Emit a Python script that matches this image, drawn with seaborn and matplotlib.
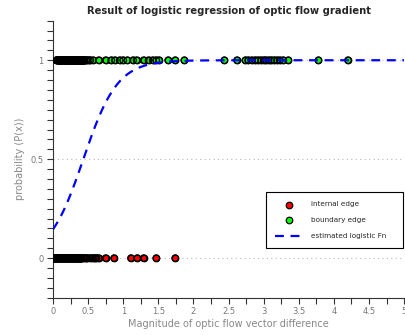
import numpy as np
import pandas as pd
import matplotlib
matplotlib.use('Agg')
import matplotlib.pyplot as plt
import seaborn as sns

# magnitudes of optic flow vector difference
# (dense clusters near zero kept in the order the samples came in)
internal_x = [0.000, 0.185, 0.370, 0.150, 0.335, 0.115, 0.300, 0.080, 0.265, 0.045,
              0.230, 0.010, 0.195, 0.380, 0.160, 0.345, 0.125, 0.310, 0.090, 0.275,
              0.055, 0.240, 0.020, 0.205, 0.390, 0.170, 0.355, 0.135, 0.320, 0.100,
              0.285, 0.065, 0.250, 0.030, 0.215, 0.400, 0.180, 0.365, 0.145, 0.330,
              0.110, 0.295, 0.075, 0.260, 0.040, 0.225, 0.005, 0.190, 0.375, 0.155,
              0.340, 0.120, 0.305, 0.085, 0.270, 0.050, 0.235, 0.015, 0.200, 0.385,
              0.165, 0.350, 0.130, 0.315, 0.095, 0.280, 0.060, 0.245, 0.025, 0.210,
              0.395, 0.175, 0.360, 0.140, 0.325, 0.105, 0.290, 0.070, 0.255, 0.035,
              0.220,
              0.45, 0.62, 0.41, 0.55, 0.49, 0.65, 0.43, 0.58, 0.52, 0.47, 0.60,
              0.75, 0.87, 1.11, 1.20, 1.29, 1.47, 1.74]
boundary_x = [0.050, 0.235, 0.420, 0.200, 0.385, 0.165, 0.350, 0.130, 0.315, 0.095,
              0.280, 0.060, 0.245, 0.430, 0.210, 0.395, 0.175, 0.360, 0.140, 0.325,
              0.105, 0.290, 0.070, 0.255, 0.440, 0.220, 0.405, 0.185, 0.370, 0.150,
              0.335, 0.115, 0.300, 0.080, 0.265, 0.450, 0.230, 0.415, 0.195, 0.380,
              0.160, 0.345, 0.125, 0.310, 0.090, 0.275, 0.055, 0.240, 0.425, 0.205,
              0.390, 0.170, 0.355, 0.135, 0.320, 0.100, 0.285, 0.065, 0.250, 0.435,
              0.215, 0.400, 0.180, 0.365, 0.145, 0.330, 0.110, 0.295, 0.075, 0.260,
              0.445, 0.225, 0.410, 0.190, 0.375, 0.155, 0.340, 0.120, 0.305, 0.085,
              0.270,
              0.47, 0.53, 0.49, 0.51,
              0.57, 0.65, 0.75, 0.83, 0.88, 0.95, 1.00, 1.06, 1.14, 1.19,
              1.29, 1.36, 1.42, 1.47, 1.51, 1.64, 1.74, 1.87, 2.44, 2.62,
              2.74, 2.78, 2.83, 2.88, 2.92, 2.96, 3.00, 3.03, 3.07, 3.11,
              3.15, 3.19, 3.23, 3.28, 3.35, 3.78, 4.20]
# estimated logistic fn coefficients (intercept, slope)
b0, b1 = -1.77, 4.1

internal = pd.DataFrame({'x': internal_x, 'p': 0.0})
boundary = pd.DataFrame({'x': boundary_x, 'p': 1.0})
xs = np.linspace(0, 5, 300)
fit = pd.DataFrame({'x': xs, 'p': 1 / (1 + np.exp(-(b0 + b1 * xs)))})

sns.set_style('white')
plt.rcParams['font.family'] = ['DejaVu Sans']

fig = plt.figure(figsize=(4.06, 3.35), dpi=100)
ax = fig.add_axes([0.1305, 0.1113, 0.865, 0.827])

for yv in [0, 0.5, 1]:
    ax.axhline(yv, color='#b8b8b8', ls=(0, (1, 3)), lw=0.8, zorder=0)

mk = dict(s=22, linewidth=0.9, ax=ax)
sns.scatterplot(data=internal, x='x', y='p', color='#ff0000', edgecolor='black',
                label='internal edge', zorder=3, **mk)
sns.scatterplot(data=boundary, x='x', y='p', color='#00ff00', edgecolor='black',
                label='boundary edge', zorder=3, **mk)
# outlines drawn again on top, so the crowded points near zero go dark
for d in [internal, boundary]:
    sns.scatterplot(data=d, x='x', y='p', facecolor='none', edgecolor='black',
                    zorder=3.5, legend=False, **mk)
sns.lineplot(data=fit, x='x', y='p', color='#0000ff', lw=1.6, dashes=False,
             ls=(0, (4, 3)), label='estimated logistic Fn', ax=ax, zorder=4)

ax.set_xlim(0, 5)
ax.set_ylim(-0.2, 1.2)
ax.set_xticks(np.arange(0, 5.01, 0.5))
ax.set_xticklabels(['0', '0.5', '1', '1.5', '2', '2.5', '3', '3.5', '4', '4.5', '5'])
ax.set_xticks(np.arange(0, 5.01, 0.25), minor=True)
ax.set_yticks([0, 0.5, 1])
ax.set_yticklabels(['0', '0.5', '1'])
ax.set_yticks(np.arange(-0.2, 1.201, 0.05), minor=True)
ax.tick_params(which='both', direction='out', length=4, width=0.8, color='#333333',
               labelsize=6, labelcolor='#777777', bottom=True, left=True, pad=3)
for s in ['top', 'right']:
    ax.spines[s].set_visible(False)
for s in ['left', 'bottom']:
    ax.spines[s].set_color('#333333')
    ax.spines[s].set_linewidth(0.8)

ax.set_title('Result of logistic regression of optic flow gradient',
             fontsize=7.2, fontweight='bold', pad=5)
ax.set_xlabel('Magnitude of optic flow vector difference', fontsize=7, color='#888888', labelpad=2)
ax.set_ylabel('probability (P(x))', fontsize=7, color='#888888', labelpad=4)

leg = ax.legend(loc='lower left', bbox_to_anchor=(0.607, 0.179, 0.390, 0.2), mode='expand',
                borderaxespad=0, fontsize=5.2, fancybox=False, framealpha=1,
                edgecolor='black', borderpad=1.25, labelspacing=1.35,
                handlelength=3.9, handletextpad=1.1)
leg.get_frame().set_linewidth(0.8)

fig.savefig('out.png', dpi=100)
